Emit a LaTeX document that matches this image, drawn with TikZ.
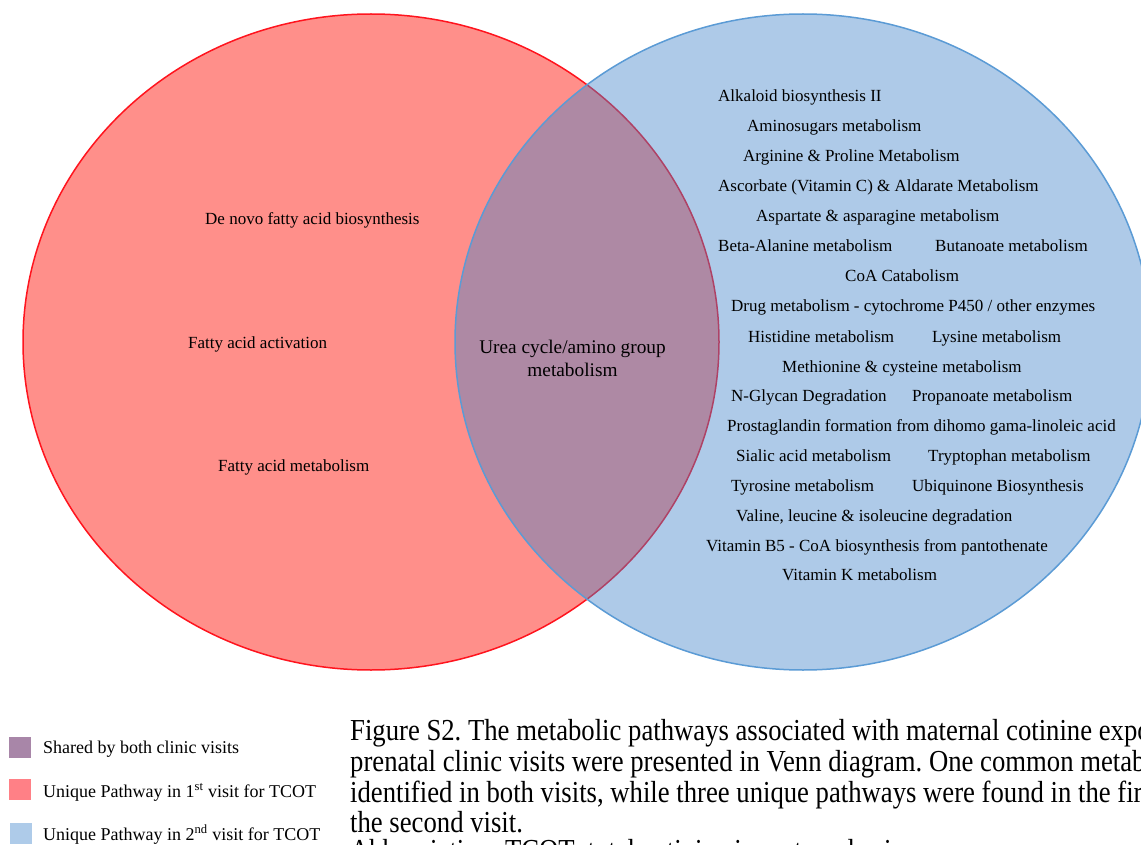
\documentclass[tikz,border=0pt]{standalone}
\usepackage{fontspec}
\setmainfont{Liberation Serif}
\newfontfamily\capfont{Liberation Serif}[FakeStretch=0.875]
\frenchspacing
\usetikzlibrary{calc}
\definecolor{vennred}{RGB}{255,143,138}
\definecolor{vennredline}{RGB}{255,20,30}
\definecolor{vennblue}{RGB}{62,131,202}
\definecolor{vennblueline}{RGB}{91,155,213}
\definecolor{keyred}{RGB}{255,128,134}
\definecolor{keyblue}{RGB}{174,203,233}
\definecolor{keypurple}{RGB}{168,134,168}
\tikzset{
    pathway/.style = {anchor=base west, inner sep=0pt, font=\fontsize{17}{20}\selectfont},
    shared/.style = {align=center, inner sep=0pt, font=\fontsize{19.3}{23}\selectfont},
    keybox/.style = {anchor=north west, inner sep=0pt, minimum width=22pt, minimum height=21pt},
    keytext/.style = {anchor=base west, inner sep=0pt, font=\fontsize{18}{21}\selectfont},
    capline/.style = {anchor=base west, inner sep=0pt, font=\capfont\fontsize{30.5}{30.5}\selectfont},
    vennset/.style = {x radius=348pt, y radius=328pt},
}

\begin{document}
\begin{tikzpicture}[x=1pt, y=-1pt]
\useasboundingbox (0,0) rectangle (1141,845);
\fill[white] (0,0) rectangle (1141,845);
\clip (0,0) rectangle (1141,845);

\coordinate (first) at (371,342);
\coordinate (second) at (803,342);
\filldraw[fill=vennred, draw=vennredline, line width=1.5pt] (first) ellipse [vennset];
\fill[vennblue, fill opacity=0.42] (second) ellipse [vennset];
\draw[vennblueline, line width=1.5pt] (second) ellipse [vennset];

\node[pathway] (denovo) at (205,225) {De novo fatty acid biosynthesis};
\node[pathway] (activ) at (188,348) {Fatty acid activation};
\node[pathway] (fatty) at (218,471) {Fatty acid metabolism};

\node[shared] (urea) at (572.5,358) {Urea cycle/amino group\\metabolism};

\node[pathway] (alk) at (718,102) {Alkaloid biosynthesis II};
\node[pathway] (amino) at (747,132) {Aminosugars metabolism};
\node[pathway] (arg) at (743,162) {Arginine \& Proline Metabolism};
\node[pathway] (asc) at (718,192) {Ascorbate (Vitamin C) \& Aldarate Metabolism};
\node[pathway] (asp) at (756,222) {Aspartate \& asparagine metabolism};
\node[pathway] (beta) at (718,252) {Beta-Alanine metabolism};
\node[pathway] (but) at (935,252) {Butanoate metabolism};
\node[pathway] (coa) at (845,282) {CoA Catabolism};
\node[pathway] (drug) at (731,312) {Drug metabolism - cytochrome P450 / other enzymes};
\node[pathway] (his) at (748,342) {Histidine metabolism};
\node[pathway] (lys) at (932,342) {Lysine metabolism};
\node[pathway] (met) at (782,372) {Methionine \& cysteine metabolism};
\node[pathway] (glyc) at (731,401) {N-Glycan Degradation};
\node[pathway] (prop) at (912,401) {Propanoate metabolism};
\node[pathway] (pros) at (727,431) {Prostaglandin formation from dihomo gama-linoleic acid};
\node[pathway] (sial) at (736,461) {Sialic acid metabolism};
\node[pathway] (tryp) at (928,461) {Tryptophan metabolism};
\node[pathway] (tyr) at (731,491) {Tyrosine metabolism};
\node[pathway] (ubi) at (912,491) {Ubiquinone Biosynthesis};
\node[pathway] (val) at (736,521) {Valine, leucine \& isoleucine degradation};
\node[pathway] (vitb) at (706,551) {Vitamin B5 - CoA biosynthesis from pantothenate};
\node[pathway] (vitk) at (782,580) {Vitamin K metabolism};

\node[keybox, fill=keypurple] (keyboth) at (9,737) {};
\node[keytext] (txtboth) at (43,753) {Shared by both clinic visits};
\node[keybox, fill=keyred] (keyone) at (9,779) {};
\node[keytext] (txtone) at (43,797) {Unique Pathway in 1\textsuperscript{st} visit for TCOT};
\node[keybox, fill=keyblue] (keytwo) at (10,823) {};
\node[keytext] (txttwo) at (43,840) {Unique Pathway in 2\textsuperscript{nd} visit for TCOT};

\node[capline] (cap1) at (350,740) {Figure S2. The metabolic pathways associated with maternal cotinine exposure at two};
\node[capline] (cap2) at (350,771) {prenatal clinic visits were presented in Venn diagram. One common metabolic pathway was};
\node[capline] (cap3) at (350,802) {identified in both visits, while three unique pathways were found in the first visit and 22 in};
\node[capline] (cap4) at (350,832) {the second visit.};
\node[capline] (cap5) at (350,860) {Abbreviation: TCOT: total cotinine in maternal urine.};
\end{tikzpicture}
\end{document}
